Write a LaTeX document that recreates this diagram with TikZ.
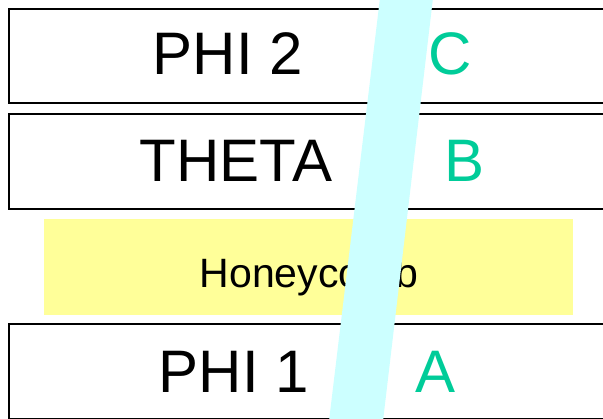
\documentclass[tikz,border=0pt]{standalone}
\usepackage{fontspec}
\setmainfont{Liberation Sans}
\definecolor{bandcyan}{RGB}{204,255,255}
\definecolor{lblgreen}{RGB}{0,204,153}
\definecolor{honey}{RGB}{255,255,153}
\begin{document}
\begin{tikzpicture}[x=1pt,y=-1pt,
  frame/.style={draw=black, line width=2pt, fill=white, rectangle, inner sep=0pt, anchor=north west},
  honeybox/.style={fill=honey, rectangle, inner sep=0pt, anchor=north west},
  bigtxt/.style={font=\fontsize{60}{60}\selectfont, text=black, inner sep=0pt, anchor=base},
  lettertxt/.style={font=\fontsize{60}{60}\selectfont, text=lblgreen, inner sep=0pt, anchor=base},
  midtxt/.style={font=\fontsize{41}{41}\selectfont, text=black, inner sep=0pt, anchor=base}]
\useasboundingbox (0,0) rectangle (603,419);
\clip (0,0) rectangle (603,419);
\node[frame, minimum width=607pt, minimum height=94pt] (row1) at (8,8) {};
\node[frame, minimum width=607pt, minimum height=95pt] (row2) at (8,113) {};
\node[honeybox, minimum width=529pt, minimum height=96pt] (honey) at (44,219) {};
\node[frame, minimum width=607pt, minimum height=95pt] (row3) at (8,323) {};
\node[bigtxt] (phi2) at (228,75) {PHI 2};
\node[bigtxt] (theta) at (236,182) {THETA};
\node[bigtxt] (phi1) at (234,393) {PHI 1};
\node[lettertxt] (c) at (450,75) {C};
\node[lettertxt] (b) at (465,182) {B};
\node[lettertxt] (a) at (436,393) {A};
\node[midtxt] (hc) at (309,288) {Honeycomb};
\fill[bandcyan] (380,-2) -- (433,-2) -- (383,421) -- (329,421) -- cycle;
\end{tikzpicture}
\end{document}
